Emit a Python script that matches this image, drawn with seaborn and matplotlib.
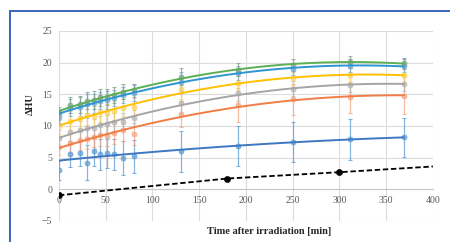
import numpy as np
import seaborn as sns
import matplotlib.pyplot as plt
from matplotlib.patches import Rectangle

# time points [min]
times = [0, 12, 23, 30, 37, 44, 51, 59, 69, 80, 131, 191, 250, 311, 369]

# delta HU per series
green = [12.0, 13.3, 13.4, 14.0, 14.1, 14.5, 14.6, 14.9, 15.4, 15.6, 17.8, 18.9, 19.6, 20.1, 19.9]
green_err = [1.0, 1.2, 1.4, 1.4, 1.4, 1.3, 1.3, 1.2, 1.2, 1.1, 1.4, 1.0, 0.9, 0.9, 0.9]
lblue = [11.4, 12.9, 13.0, 13.5, 13.6, 14.0, 14.1, 14.4, 14.9, 15.2, 17.0, 18.3, 19.0, 19.5, 19.5]
lblue_err = [1.0, 1.4, 1.5, 1.5, 1.5, 1.4, 1.4, 1.3, 1.3, 1.2, 1.5, 1.1, 1.0, 1.0, 1.0]
yellow = [10.0, 10.8, 11.3, 11.8, 11.6, 12.2, 12.0, 12.4, 12.9, 13.0, 15.8, 16.8, 17.5, 18.1, 18.0]
yellow_err = [1.2, 1.5, 1.6, 1.6, 1.6, 1.5, 1.5, 1.5, 1.4, 1.4, 1.6, 1.2, 1.1, 1.1, 1.1]
gray = [8.1, 9.1, 9.3, 9.7, 9.6, 10.2, 10.3, 10.6, 10.7, 11.2, 13.6, 15.2, 15.9, 16.5, 16.6]
gray_err = [1.2, 1.4, 1.5, 1.5, 1.5, 1.4, 1.4, 1.4, 1.4, 1.3, 1.6, 1.3, 1.2, 1.2, 1.1]
orange = [6.6, 7.3, 7.8, 7.9, 8.2, 8.5, 8.4, 8.9, 9.3, 8.7, 11.9, 13.3, 14.2, 14.5, 14.8]
orange_err = [1.2, 1.5, 1.6, 1.6, 1.6, 1.6, 1.6, 1.7, 1.7, 1.7, 2.0, 2.7, 2.5, 2.5, 2.9]
blue = [3.0, 5.5, 5.7, 4.2, 6.0, 5.5, 5.7, 5.5, 5.0, 5.2, 6.0, 6.8, 7.5, 7.9, 8.2]
blue_err = [1.5, 2.0, 2.0, 2.8, 2.4, 2.4, 2.3, 2.5, 2.7, 2.6, 3.2, 3.2, 3.2, 3.2, 3.1]

# control (black dashed)
ctrl_t = [0, 180, 300, 400]
ctrl = [-0.95, 1.7, 2.7, 3.6]

series = [
    (blue, blue_err, '#5B9BD5', '#3E78C2'),
    (orange, orange_err, '#F4A582', '#F07D45'),
    (gray, gray_err, '#B5B5B5', '#A5A5A5'),
    (yellow, yellow_err, '#FFD15C', '#FFC000'),
    (lblue, lblue_err, '#6FA8D8', '#2E95D3'),
    (green, green_err, '#7F9F8A', '#5BB055'),
]

sns.set_theme(style="whitegrid")
plt.rcParams['font.family'] = ['Liberation Serif', 'DejaVu Serif']

fig, ax = plt.subplots(figsize=(4.5, 2.42), dpi=100)
fig.subplots_adjust(left=0.131, right=0.962, top=0.872, bottom=0.087)

t = np.array(times)
t_fit = np.linspace(0, max(times), 120)
for vals, errs, pcol, lcol in series:
    ax.errorbar(t, vals, yerr=errs, fmt='none', ecolor=pcol, elinewidth=0.9,
                capsize=1.5, capthick=0.8, alpha=0.75, zorder=2)
    sns.scatterplot(x=t, y=vals, color=pcol, s=13, alpha=0.7, edgecolor=pcol,
                    linewidth=0.6, ax=ax, zorder=3, legend=False)
    coef = np.polyfit(t, vals, 2)
    sns.lineplot(x=t_fit, y=np.polyval(coef, t_fit), color=lcol, linewidth=1.4,
                 ax=ax, zorder=4, legend=False)

ax.plot(ctrl_t, ctrl, color='black', linestyle=(0, (3, 1.5)), linewidth=1.3, zorder=5)
sns.scatterplot(x=ctrl_t[:3], y=ctrl[:3], color='black', s=20, marker='o',
                edgecolor='black', ax=ax, zorder=6, legend=False)

ax.set_xlim(0, 400)
ax.set_ylim(-5, 25)
ax.set_xticks(range(0, 401, 50))
ax.set_yticks(range(-5, 26, 5))
ax.grid(True, color='#DCDCDC', linewidth=0.8)
for s in ['top', 'right', 'left']:
    ax.spines[s].set_visible(False)
ax.spines['bottom'].set_position(('data', 0))
ax.spines['bottom'].set_color('#C8C8C8')
ax.spines['bottom'].set_linewidth(0.8)
ax.tick_params(axis='x', length=0, pad=5, labelsize=7, labelcolor='#595959')
ax.tick_params(axis='y', length=0, pad=5, labelsize=7, labelcolor='#595959')
ax.set_xlabel('')
ax.set_ylabel('')

fig.text(269 / 450, 1 - 232 / 242, 'Time after irradiation [min]', ha='center', va='center',
         fontsize=7.5, fontweight='bold')
fig.text(30 / 450, 1 - 104 / 242, 'ΔHU', ha='center', va='center', rotation=90,
         fontsize=7.5, fontweight='bold')

# frame of the figure box
fig.add_artist(Rectangle((0.022, -0.2), 1.2, 0.9545 + 0.2, transform=fig.transFigure,
                         fill=False, edgecolor='#2B5BB5', linewidth=1.3))

fig.savefig('out.png', dpi=100)
